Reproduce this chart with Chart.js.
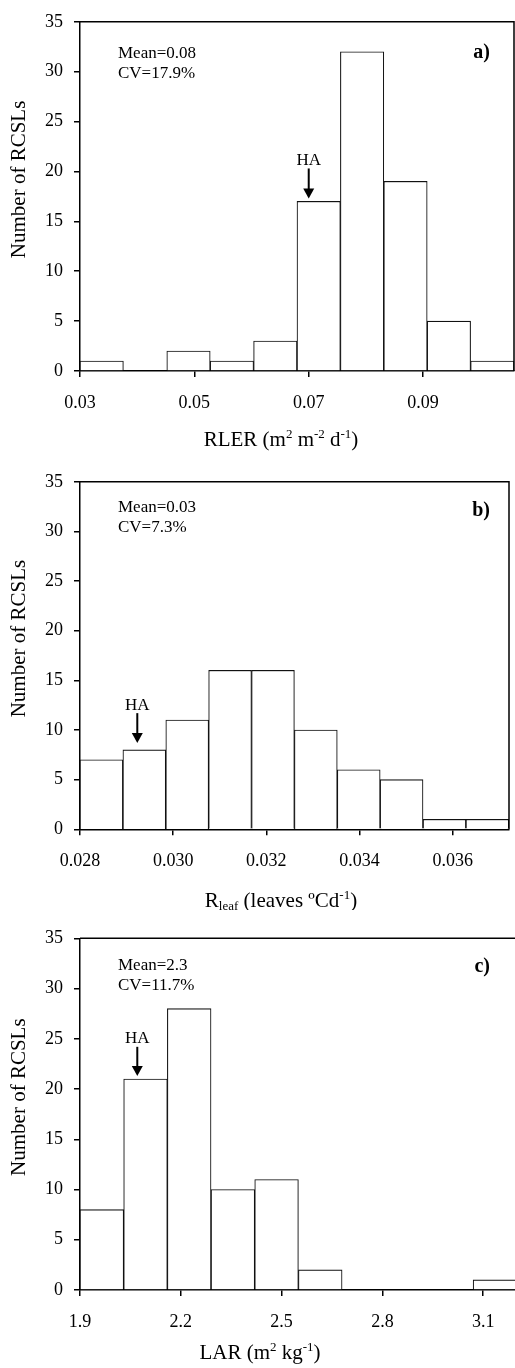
<!DOCTYPE html>
<html>
<head>
<meta charset="utf-8">
<script src="https://cdn.jsdelivr.net/npm/chart.js@4/dist/chart.umd.min.js"></script>
<style>
  body { margin: 0; background: #fff; }
  canvas { display: block; }
</style>
</head>
<body>
<canvas id="chartA" width="515" height="460"></canvas>
<canvas id="chartB" width="515" height="450"></canvas>
<canvas id="chartC" width="515" height="458"></canvas>
<script>
// shared y axis
const countTicks = [0, 5, 10, 15, 20, 25, 30, 35];

// a) RLER
const rlerBins = [0.033795, 0.041385, 0.048975, 0.056565, 0.064155, 0.071745, 0.079335, 0.086925, 0.094515, 0.102105];
const rlerCounts = [1, 0, 2, 1, 3, 17, 32, 19, 5, 1];
const rlerTicks = [0.03, 0.05, 0.07, 0.09];
const rlerTickLabels = ['0.03', '0.05', '0.07', '0.09'];

// b) Rleaf
const rleafBins = [0.028460, 0.029381, 0.030302, 0.031222, 0.032143, 0.033063, 0.033984, 0.034904, 0.035825, 0.036745];
const rleafCounts = [7, 8, 11, 16, 16, 10, 6, 5, 1, 1];
const rleafTicks = [0.028, 0.030, 0.032, 0.034, 0.036];
const rleafTickLabels = ['0.028', '0.030', '0.032', '0.034', '0.036'];

// c) LAR
const larBins = [1.965, 2.095, 2.225, 2.355, 2.485, 2.615, 2.745, 2.875, 3.005, 3.135];
const larCounts = [8, 21, 28, 10, 11, 2, 0, 0, 0, 1];
const larTicks = [1.9, 2.2, 2.5, 2.8, 3.1];
const larTickLabels = ['1.9', '2.2', '2.5', '2.8', '3.1'];

const SERIF = '"Liberation Serif", "Times New Roman", serif';

function drawRich(ctx, parts, cx, cy, size) {
  const fontOf = kind => (kind ? Math.round(size * 0.62) : size) + 'px ' + SERIF;
  let total = 0;
  parts.forEach(p => { ctx.font = fontOf(p[1]); total += ctx.measureText(p[0]).width; });
  let x = cx - total / 2;
  ctx.textAlign = 'left';
  ctx.textBaseline = 'alphabetic';
  parts.forEach(p => {
    ctx.font = fontOf(p[1]);
    const dy = p[1] === 'sup' ? -size * 0.36 : p[1] === 'sub' ? size * 0.16 : 0;
    ctx.fillText(p[0], x, cy + size * 0.33 + dy);
    x += ctx.measureText(p[0]).width;
  });
}

const panelPlugin = {
  id: 'panelDecor',
  afterDraw(chart, args, o) {
    const { ctx, chartArea: a, scales: { x, y } } = chart;
    ctx.save();
    ctx.strokeStyle = '#000';
    ctx.fillStyle = '#000';
    ctx.lineWidth = 1.5;
    // top and right frame
    ctx.beginPath();
    ctx.moveTo(a.left, a.top);
    ctx.lineTo(a.right, a.top);
    if (o.rightFrame) ctx.lineTo(a.right, a.bottom);
    ctx.stroke();

    // HA arrow
    const ax = x.getPixelForValue(o.haX);
    const yTop = y.getPixelForValue(o.arrowTop);
    const yTip = y.getPixelForValue(o.arrowTip);
    ctx.lineWidth = 2;
    ctx.beginPath();
    ctx.moveTo(ax, yTop);
    ctx.lineTo(ax, yTip - 8);
    ctx.stroke();
    ctx.beginPath();
    ctx.moveTo(ax - 5.5, yTip - 10);
    ctx.lineTo(ax + 5.5, yTip - 10);
    ctx.lineTo(ax, yTip);
    ctx.closePath();
    ctx.fill();
    ctx.font = '17px ' + SERIF;
    ctx.textAlign = 'center';
    ctx.textBaseline = 'middle';
    ctx.fillText('HA', ax, y.getPixelForValue(o.haText));

    // stats and panel letter
    ctx.textAlign = 'left';
    ctx.fillText(o.mean, a.left + 38, a.top + o.meanDy);
    ctx.fillText(o.cv, a.left + 38, a.top + o.meanDy + 20);
    ctx.font = 'bold 20px ' + SERIF;
    ctx.textAlign = 'right';
    ctx.fillText(o.letter, 490, a.top + o.letterDy);

    // axis titles
    drawRich(ctx, o.xTitle, o.xTitleX, a.bottom + o.xTitleDy, 21);
    ctx.translate(19, (a.top + a.bottom) / 2 - 17);
    ctx.rotate(-Math.PI / 2);
    ctx.font = '21px ' + SERIF;
    ctx.textAlign = 'center';
    ctx.textBaseline = 'middle';
    ctx.fillText('Number of RCSLs', 0, 0);
    ctx.restore();
  }
};

function makePanel(id, bins, counts, ticks, tickLabels, xMin, xMax, layout, decor) {
  new Chart(document.getElementById(id), {
    type: 'bar',
    data: {
      datasets: [{
        data: bins.map((b, i) => ({ x: b, y: counts[i] })),
        backgroundColor: '#fff',
        borderColor: '#111',
        borderWidth: 1.1,
        borderSkipped: 'bottom',
        barPercentage: 1,
        categoryPercentage: 1
      }]
    },
    options: {
      responsive: false,
      animation: false,
      devicePixelRatio: 1,
      layout: { padding: { top: layout.top, right: layout.right, left: 0, bottom: 0 } },
      plugins: {
        legend: { display: false },
        tooltip: { enabled: false },
        panelDecor: decor
      },
      scales: {
        x: {
          type: 'linear',
          min: xMin,
          max: xMax,
          offset: false,
          afterBuildTicks: s => { s.ticks = ticks.map(v => ({ value: v })); },
          afterFit: s => { s.height = layout.xAxisHeight; },
          grid: { offset: false, drawOnChartArea: false, tickLength: 6, color: '#000', lineWidth: 1.5 },
          border: { color: '#000', width: 1.5 },
          ticks: {
            autoSkip: false,
            maxRotation: 0,
            padding: 15,
            color: '#000',
            font: { family: SERIF, size: 18 },
            callback: (v, i) => tickLabels[i]
          }
        },
        y: {
          min: 0,
          max: 35,
          afterBuildTicks: s => { s.ticks = countTicks.map(v => ({ value: v })); },
          afterFit: s => { s.width = 80; },
          grid: { drawOnChartArea: false, tickLength: 6, color: '#000', lineWidth: 1.5 },
          border: { color: '#000', width: 1.5 },
          ticks: {
            padding: 11,
            color: '#000',
            font: { family: SERIF, size: 18 }
          }
        }
      }
    },
    plugins: [panelPlugin]
  });
}

makePanel('chartA', rlerBins, rlerCounts, rlerTicks, rlerTickLabels, 0.03, 0.1059,
  { top: 19, right: 1, xAxisHeight: 89 },
  {
    rightFrame: true, haX: 0.07, arrowTop: 20.3, arrowTip: 17.3, haText: 21.1,
    mean: 'Mean=0.08', cv: 'CV=17.9%', meanDy: 31.7, letter: 'a)', letterDy: 31,
    xTitle: [['RLER (m', ''], ['2', 'sup'], [' m', ''], ['-2', 'sup'], [' d', ''], ['-1', 'sup'], [')', '']],
    xTitleX: 281, xTitleDy: 68
  });

makePanel('chartB', rleafBins, rleafCounts, rleafTicks, rleafTickLabels, 0.028, 0.03721,
  { top: 17.3, right: 6, xAxisHeight: 80.7 },
  {
    rightFrame: true, haX: 0.02923, arrowTop: 11.7, arrowTip: 8.7, haText: 12.5,
    mean: 'Mean=0.03', cv: 'CV=7.3%', meanDy: 26, letter: 'b)', letterDy: 29.4,
    xTitle: [['R', ''], ['leaf', 'sub'], [' (leaves ºCd', ''], ['-1', 'sup'], [')', '']],
    xTitleX: 281, xTitleDy: 70.7
  });

makePanel('chartC', larBins, larCounts, larTicks, larTickLabels, 1.9, 3.1946,
  { top: 28.3, right: 0, xAxisHeight: 78 },
  {
    rightFrame: false, haX: 2.0705, arrowTop: 24.2, arrowTip: 21.3, haText: 25.0,
    mean: 'Mean=2.3', cv: 'CV=11.7%', meanDy: 27.7, letter: 'c)', letterDy: 28.4,
    xTitle: [['LAR (m', ''], ['2', 'sup'], [' kg', ''], ['-1', 'sup'], [')', '']],
    xTitleX: 260, xTitleDy: 61.7
  });
</script>
</body>
</html>
